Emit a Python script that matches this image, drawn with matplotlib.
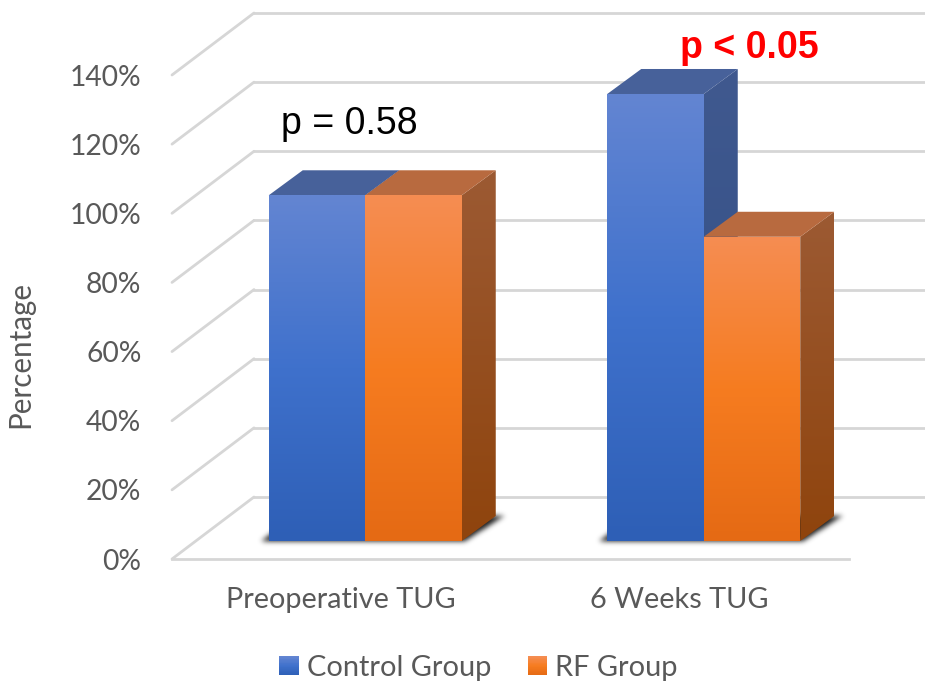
import numpy as np
import matplotlib
matplotlib.use("Agg")
import matplotlib.pyplot as plt
from matplotlib.colors import LinearSegmentedColormap
from matplotlib.legend_handler import HandlerBase
from matplotlib.patches import Patch, Polygon, Rectangle
from matplotlib.path import Path

categories = ["Preoperative TUG", "6 Weeks TUG"]
control_group = [100, 129.3]
rf_group = [100, 88]
y_ticks = [0, 20, 40, 60, 80, 100, 120, 140]
p_labels = ["p = 0.58", "p < 0.05"]

BLUE = ["#6385D2", "#3F71CC", "#2E5FB6"]
ORANGE = ["#F58D52", "#F67C20", "#E56A14"]
BLUE_TOP, BLUE_SIDE = "#47619A", ["#40598F", "#2F4D84"]
ORANGE_TOP, ORANGE_SIDE = "#B86A3F", ["#9C5A33", "#8F440D"]
TEXT = "#595959"
GRID = "#D6D6D6"

plt.rcParams["font.family"] = ["Lato", "DejaVu Sans"]

fig = plt.figure(figsize=(9.25, 6.81), dpi=100)
ax = fig.add_axes([172 / 925, (681 - 559) / 681, 677 / 925, 484 / 681])

# one pixel in data units, the fake 3d is all done with these
px = 2 / 677
py = 140 / 484
wall_dx, wall_dy = 82 * px, 62 * py
base_dx, base_dy = 24 * px, 18 * py
box_dx, box_dy = 34 * px, 25 * py
bar_w = 96.5 * px


def gradient_poly(verts, colors):
    cmap = LinearSegmentedColormap.from_list("g", colors)
    xs = [v[0] for v in verts]
    ys = [v[1] for v in verts]
    im = ax.imshow(np.linspace(0, 1, 200).reshape(-1, 1), cmap=cmap, aspect="auto", origin="upper",
                   extent=(min(xs), max(xs), min(ys), max(ys)), zorder=3, interpolation="bilinear")
    clip = Polygon(verts, transform=ax.transData, fc="none", ec="none")
    im.set_clip_path(clip)
    im.set_clip_box(fig.bbox)


def draw_box(x0, value, front, side, top):
    x1 = x0 + bar_w
    y0 = base_dy
    y1 = base_dy + value
    gradient_poly([(x1, y0), (x1 + box_dx, y0 + box_dy), (x1 + box_dx, y1 + box_dy), (x1, y1)], side)
    ax.add_patch(Polygon([(x0, y1), (x1, y1), (x1 + box_dx, y1 + box_dy), (x0 + box_dx, y1 + box_dy)],
                         fc=top, ec="none", zorder=3, clip_on=False))
    gradient_poly([(x0, y0), (x1, y0), (x1, y1), (x0, y1)], front)


def draw_shadow(x0, x1):
    # soft shadow: polygon mask on a pixel grid, blurred along both directions
    verts = [(x0 - 9 * px, base_dy - 1 * py), (x1 + 2 * px, base_dy - 1 * py),
             (x1 + 42 * px, base_dy + 25 * py), (x0 + 25 * px, base_dy + 25 * py)]
    pad_x, pad_y = 20 * px, 12 * py
    xs = np.arange(x0 - 9 * px - pad_x, x1 + 42 * px + pad_x, px)
    ys = np.arange(base_dy - 1 * py - pad_y, base_dy + 25 * py + pad_y, py)
    gx, gy = np.meshgrid(xs, ys)
    mask = Path(verts).contains_points(np.c_[gx.ravel(), gy.ravel()]).reshape(gx.shape).astype(float)
    kernel = np.exp(-0.5 * (np.arange(-8, 9) / 2.6) ** 2)
    kernel /= kernel.sum()
    mask = np.apply_along_axis(lambda r: np.convolve(r, kernel, mode="same"), 0, mask)
    mask = np.apply_along_axis(lambda r: np.convolve(r, kernel, mode="same"), 1, mask)
    rgba = np.zeros(mask.shape + (4,))
    rgba[..., 3] = mask * 0.9
    ax.imshow(rgba, aspect="auto", origin="lower", extent=(xs[0], xs[-1], ys[0], ys[-1]), zorder=2,
              interpolation="bilinear")


# walls and floor
for t in y_ticks:
    ax.plot([-0.5, -0.5 + wall_dx], [t, t + wall_dy], color=GRID, lw=2, zorder=1, clip_on=False,
            solid_capstyle="round")
    ax.plot([-0.5 + wall_dx, 1.5 + wall_dx], [t + wall_dy, t + wall_dy], color=GRID, lw=2, zorder=1, clip_on=False)
ax.plot([-0.5, 1.5], [0, 0], color=GRID, lw=2, zorder=1, clip_on=False)

for i in range(len(categories)):
    left = i + base_dx - bar_w
    draw_shadow(left, left + 2 * bar_w)
    draw_box(left, control_group[i], BLUE, BLUE_SIDE, BLUE_TOP)
    draw_box(left + bar_w, rf_group[i], ORANGE, ORANGE_SIDE, ORANGE_TOP)

ax.text(0.023, 125.8, p_labels[0], family="Liberation Sans", fontsize=27, color="black", ha="center", va="center")
ax.text(1.206, 147.8, p_labels[1], family="Liberation Sans", fontsize=27, fontweight="bold", color="#FF0000",
        ha="center", va="center")

ax.set_xlim(-0.5, 1.5)
ax.set_ylim(0, 140)
ax.set_xticks(range(len(categories)), categories)
ax.set_yticks(y_ticks, [f"{t}%" for t in y_ticks])
ax.tick_params(axis="x", length=0, pad=20, labelsize=20.8, labelcolor=TEXT)
ax.tick_params(axis="y", length=0, pad=22, labelsize=20.3, labelcolor=TEXT)
ax.set_ylabel("Percentage", fontsize=21.3, color=TEXT)
ax.yaxis.set_label_coords((34 - 172) / 677, (559 - 354) / 484)
for s in ax.spines.values():
    s.set_visible(False)
ax.patch.set_visible(False)


class GradientSwatch(HandlerBase):
    # legend keys fade the same way as the bars
    def create_artists(self, legend, orig, xd, yd, w, h, fontsize, trans):
        cmap = LinearSegmentedColormap.from_list("k", orig.stops)
        n = 24
        out = []
        for k in range(n):
            out.append(Rectangle((-xd + (w - h) / 2, -yd + h * k / n), h, h / n + 0.2, transform=trans,
                                 fc=cmap(1 - k / (n - 1)), ec="none"))
        return out


blue_key = Patch(label="Control Group")
blue_key.stops = BLUE
orange_key = Patch(label="RF Group")
orange_key.stops = ORANGE
fig.legend(handles=[blue_key, orange_key], loc="center", bbox_to_anchor=(478.5 / 925, (681 - 668) / 681), ncol=2,
           frameon=False, fontsize=20.9, labelcolor=TEXT, handlelength=0.65, handleheight=0.65, handletextpad=0.28,
           columnspacing=1.27, handler_map={Patch: GradientSwatch()}, borderpad=0)

fig.savefig("out.png", dpi=100)
